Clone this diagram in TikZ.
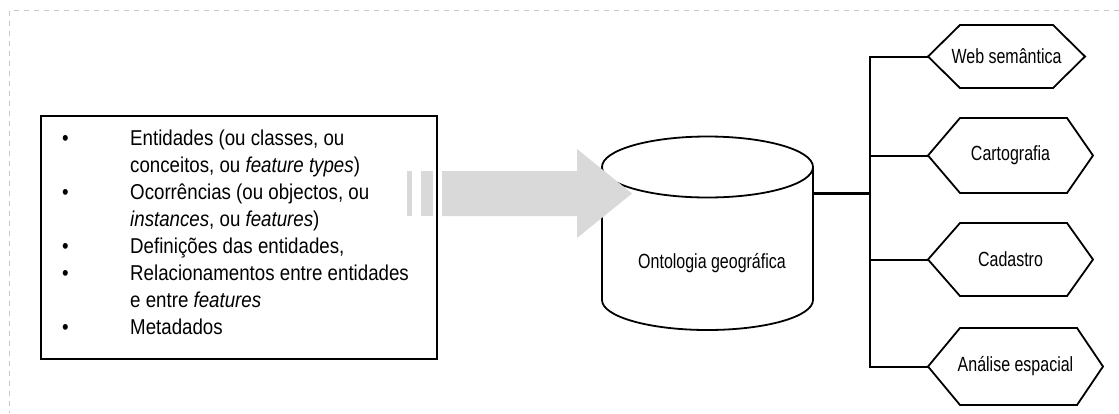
\documentclass[tikz,border=0pt]{standalone}
\usepackage{fontspec}
\setmainfont[FakeStretch=0.78]{Liberation Sans}
\newfontfamily\listfont[FakeStretch=0.87]{Liberation Sans}
\usepackage{xcolor}
\usepackage{tikz}
\usetikzlibrary{calc,positioning}
\definecolor{arrowgray}{HTML}{D9D9D9}
\definecolor{framegray}{HTML}{C8C8C8}
\tikzset{
  lbl/.style={font=\fontsize{20.5}{24}\selectfont,inner sep=0pt},
  outline/.style={draw=black,line width=1.8pt,line join=miter},
  link/.style={black,line width=2pt}
}

\begin{document}
\begin{tikzpicture}[x=1pt,y=-1pt]
\useasboundingbox (0,0) rectangle (1119,413);
% page frame
\draw[framegray,line width=1pt,dash pattern=on 5pt off 5pt] (1119,10)--(9.5,10)--(9.5,413);
% list box
\draw[black,line width=2.2pt] (41,116) rectangle (437,359);
\node[anchor=north west,inner sep=0pt,font={\listfont\fontsize{21.5}{27}\selectfont}] (items) at (62,126.5) {%
\begin{tabular}{@{}p{68pt}@{}l@{}}
\textbullet & Entidades (ou classes, ou\\
 & conceitos, ou \textit{feature types})\\
\textbullet & Ocorrências (ou objectos, ou\\
 & \textit{instances}, ou \textit{features})\\
\textbullet & Definições das entidades,\\
\textbullet & Relacionamentos entre entidades\\
 & e entre \textit{features}\\
\textbullet & Metadados
\end{tabular}};
% cylinder
\draw[outline,fill=white] (602,167)--(602,300) arc[start angle=180,end angle=0,x radius=105.5,y radius=30]--(813,167);
\draw[outline] (707.5,167) ellipse[x radius=105.5,y radius=30.5];
\node[lbl] (onto) at (712,263) {Ontologia geográfica};
\coordinate (onto-e) at (813,193);
% big arrow
\fill[arrowgray] (407,171) rectangle (412,216);
\fill[arrowgray] (421,171) rectangle (433,216);
\fill[arrowgray] (442,171)--(577,171)--(577,149)--(632,193.5)--(577,238)--(577,216)--(442,216)--cycle;
% applications
\coordinate (bus) at (869.5,193);
\foreach \nm/\yc/\hh/\xe/\xr/\txt in {web/56.5/31.5/1053/1085/Web semântica,
  carto/155.5/37.5/1067/1093/Cartografia,
  cad/259.5/36.5/1067/1093/Cadastro,
  anal/366.5/38.5/1077/1103/Análise espacial}{
  \draw[outline] (928,\yc)--(960,\yc-\hh)--(\xe,\yc-\hh)--(\xr,\yc)--(\xe,\yc+\hh)--(960,\yc+\hh)--cycle;
  \node[lbl] (\nm) at ({(928+\xr)/2},\yc) {\txt};
  \coordinate (\nm-w) at (928,\yc);
}
\draw[black,line width=3pt] (onto-e)--(bus);
\draw[link] (web-w)-|(bus);
\draw[link] (carto-w)-|(bus);
\draw[link] (cad-w)-|(bus);
\draw[link] (anal-w)-|(bus);
\end{tikzpicture}
\end{document}
